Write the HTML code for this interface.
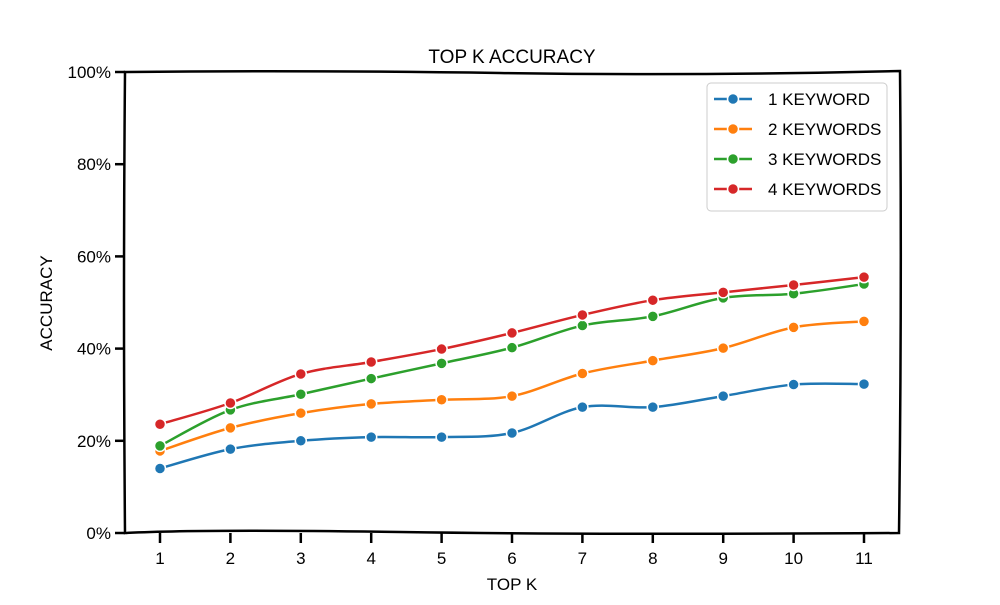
<!DOCTYPE html>
<html><head><meta charset="utf-8"><style>
body{margin:0;background:#fff;}
svg text{font-family:"Liberation Sans",sans-serif;fill:#000;}
</style></head><body>
<svg width="1000" height="600" viewBox="0 0 1000 600">
<text x="512" y="63" font-size="19" text-anchor="middle">TOP K ACCURACY</text>
<path d="M125,72 Q300,70 500,73 T900,71 Q902,300 899,533 Q600,535 400,532 T125,533 Q123,300 125,72 Z" fill="none" stroke="#000" stroke-width="2.5"/>
<g id="yticks"></g>
<g id="xticks"></g>
<text x="512" y="590" font-size="17" text-anchor="middle">TOP K</text>
<text transform="translate(52,303) rotate(-90)" font-size="17" text-anchor="middle">ACCURACY</text>
<g id="series"></g>
<g id="legend">
<rect x="707" y="83" width="180" height="128" rx="4" fill="#fff" fill-opacity="0.8" stroke="#ccc"/>
</g>
</svg>
<script>
const categories=[1,2,3,4,5,6,7,8,9,10,11];
const s1=[14,18.2,20,20.8,20.8,21.7,27.3,27.3,29.7,32.2,32.3];
const s2=[17.8,22.8,26,28,28.9,29.7,34.6,37.4,40.1,44.6,45.9];
const s3=[18.9,26.7,30.1,33.5,36.8,40.2,45,47,51,51.9,54];
const s4=[23.6,28.2,34.5,37.1,39.9,43.4,47.3,50.5,52.2,53.8,55.5];
const seriesNames=["1 KEYWORD","2 KEYWORDS","3 KEYWORDS","4 KEYWORDS"];
const yTicks=[0,20,40,60,80,100];
const colors=["#1f77b4","#ff7f0e","#2ca02c","#d62728"];
const NS="http://www.w3.org/2000/svg";
const xs=k=>160+(k-1)*70.4;
const ys=v=>533-v*4.61;
function mk(t,a,p){const e=document.createElementNS(NS,t);for(const k in a)e.setAttribute(k,a[k]);p.appendChild(e);return e;}
const yg=document.getElementById('yticks');
yTicks.forEach(v=>{
 const l=mk('line',{x1:115,x2:125,y1:ys(v),y2:ys(v),stroke:'#000','stroke-width':2.5},yg);
 
 
 const t=mk('text',{x:111,y:ys(v)+6,'font-size':17,'text-anchor':'end'},yg);
 t.textContent=v+'%';
 
 
});
const xg=document.getElementById('xticks');
categories.forEach(c=>{
 const l=mk('line',{x1:xs(c),x2:xs(c),y1:533,y2:543,stroke:'#000','stroke-width':2.5},xg);
 
 
 const t=mk('text',{x:xs(c),y:564,'font-size':17,'text-anchor':'middle'},xg);
 t.textContent=c;
 
 
});
function smooth(pts){let d=`M${pts[0][0]},${pts[0][1]}`;for(let i=0;i<pts.length-1;i++){const p0=pts[i-1]||pts[i],p1=pts[i],p2=pts[i+1],p3=pts[i+2]||p2;d+=` C${p1[0]+(p2[0]-p0[0])/6},${p1[1]+(p2[1]-p0[1])/6} ${p2[0]-(p3[0]-p1[0])/6},${p2[1]-(p3[1]-p1[1])/6} ${p2[0]},${p2[1]}`;}return d;}
const sg=document.getElementById('series');
[s1,s2,s3,s4].forEach((s,i)=>{
 const pts=s.map((v,j)=>[xs(categories[j]),ys(v)]);
 const p=mk('path',{d:smooth(pts),fill:'none',stroke:colors[i],'stroke-width':2.5},sg);
 
 
 pts.forEach(q=>{
  const c=mk('circle',{cx:q[0],cy:q[1],r:5.5,fill:colors[i],stroke:'#fff','stroke-width':1.5},sg);
  
  
 });
});
const lg=document.getElementById('legend');
seriesNames.forEach((n,i)=>{
 const y=99+i*30;
 const l=mk('line',{x1:714,x2:752,y1:y,y2:y,stroke:colors[i],'stroke-width':2.5},lg);
 
 
 const c=mk('circle',{cx:733,cy:y,r:5.5,fill:colors[i],stroke:'#fff','stroke-width':1.5},lg);
 
 
 const t=mk('text',{x:768,y:y+6,'font-size':17},lg);
 t.textContent=n;
 
 
});
</script>
</body></html>
